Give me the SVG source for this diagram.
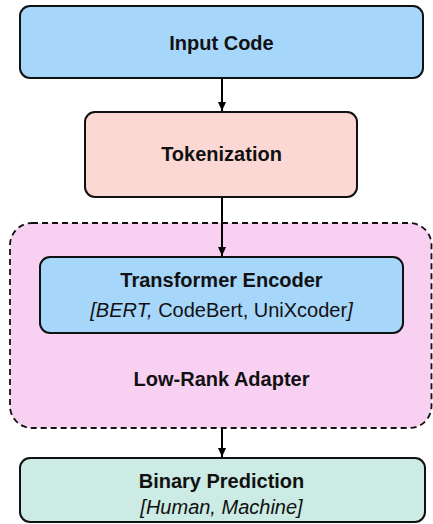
<svg xmlns="http://www.w3.org/2000/svg" width="433" height="524" viewBox="0 0 433 524">
  <defs>
    <marker id="arrow" markerWidth="10" markerHeight="10" refX="9" refY="5" orient="auto" markerUnits="userSpaceOnUse">
      <path d="M0,1 L9,5 L0,9 z" fill="#000"/>
    </marker>
    <style>
      .box { stroke: #111; stroke-width: 2; }
      .lbl { font-family: "Liberation Sans", Arial, sans-serif; font-size: 20px; fill: #111; text-anchor: middle; }
      .b { font-weight: bold; }
      .i { font-style: italic; }
      .edge { stroke: #000; stroke-width: 2; fill: none; marker-end: url(#arrow); }
    </style>
  </defs>

  <!-- LoRA container (dashed) -->
  <g id="low-rank-adapter">
    <rect x="10" y="223" width="421.5" height="205" rx="22" fill="#f8d0f2" stroke="#111" stroke-width="1.8" stroke-dasharray="6 4"/>
    <text class="lbl b" x="221.5" y="386">Low-Rank Adapter</text>
  </g>

  <g id="input-code">
    <rect class="box" x="20" y="6" width="403" height="72" rx="10" fill="#a7d6fb"/>
    <text class="lbl b" x="221.5" y="50">Input Code</text>
  </g>

  <g id="tokenization">
    <rect class="box" x="85" y="112" width="272" height="85" rx="10" fill="#fcd8d4"/>
    <text class="lbl b" x="221.5" y="161">Tokenization</text>
  </g>

  <g id="transformer-encoder">
    <rect class="box" x="40" y="257" width="363" height="76" rx="10" fill="#a7d6fb"/>
    <text class="lbl b" x="221.5" y="287">Transformer Encoder</text>
    <text class="lbl" x="221.5" y="317"><tspan class="i">[BERT,</tspan> CodeBert, UniXcoder<tspan class="i">]</tspan></text>
  </g>

  <g id="binary-prediction">
    <rect class="box" x="20" y="458" width="405" height="64" rx="10" fill="#cbebe4"/>
    <text class="lbl b" x="221.5" y="488">Binary Prediction</text>
    <text class="lbl i" x="221.5" y="514">[Human, Machine]</text>
  </g>

  <g id="connectors">
    <line class="edge" x1="222" y1="79" x2="222" y2="111"/>
    <line class="edge" x1="222" y1="198" x2="222" y2="256"/>
    <line class="edge" x1="222" y1="429" x2="222" y2="457"/>
  </g>
</svg>
